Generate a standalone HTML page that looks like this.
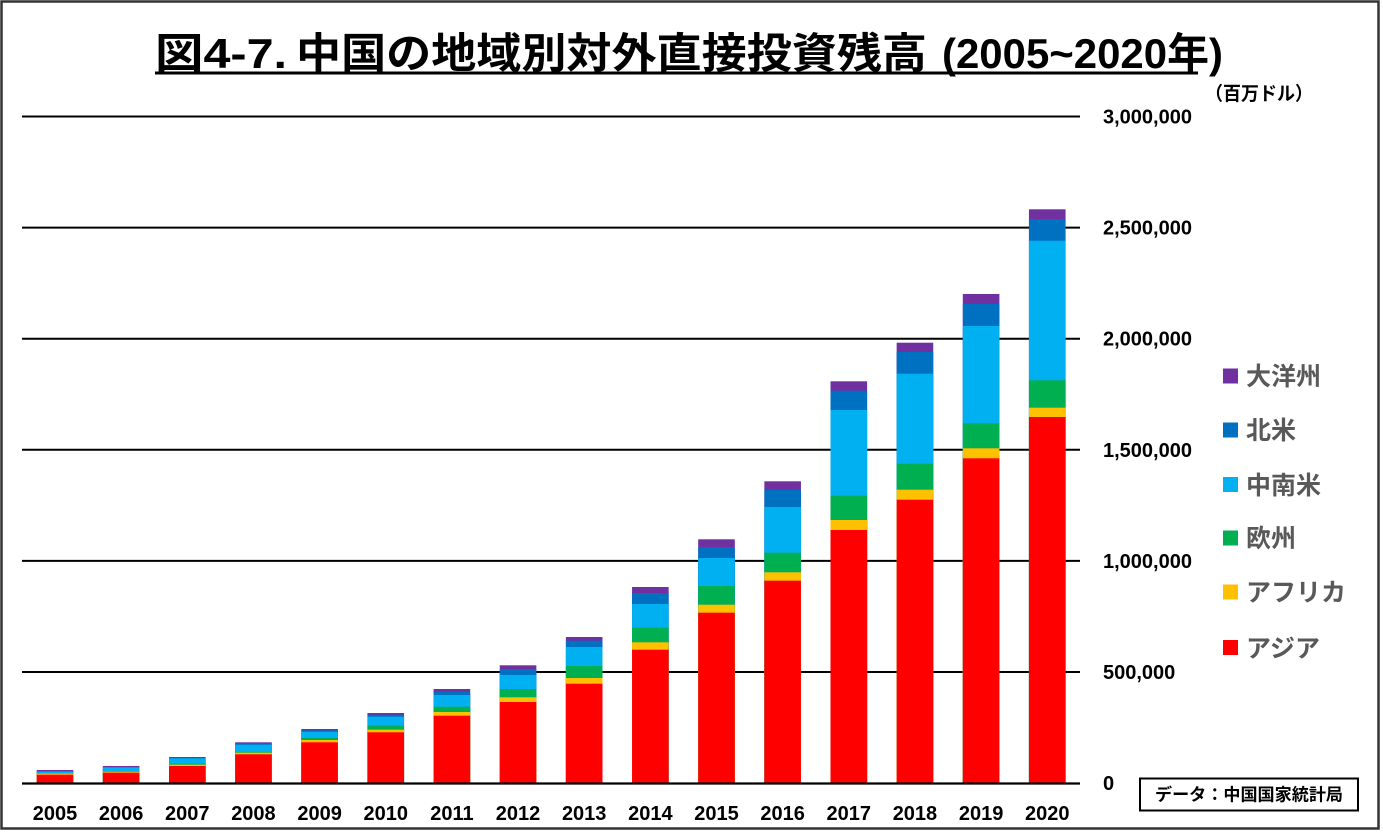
<!DOCTYPE html>
<html>
<head>
<meta charset="utf-8">
<style>
  html, body { margin: 0; padding: 0; background: #ffffff; }
  svg { display: block; }
  .cjk { font-family: "Liberation Sans", "Noto Sans CJK JP", sans-serif; }
  .lat { font-family: "Liberation Sans", sans-serif; }
</style>
</head>
<body>
<svg width="1383" height="833" viewBox="0 0 1383 833" xmlns="http://www.w3.org/2000/svg">
  <rect x="0" y="0" width="1383" height="833" fill="#ffffff"/>
  <!-- outer border -->
  <rect x="1.5" y="1.5" width="1377" height="827" fill="none" stroke="#333333" stroke-width="2.5"/>

  <!-- title -->
  <g class="cjk" font-weight="bold" font-size="42" fill="#000">
    <text x="155" y="68" textLength="132" lengthAdjust="spacingAndGlyphs">図4-7.</text>
    <text x="296" y="68" textLength="631" lengthAdjust="spacingAndGlyphs">中国の地域別対外直接投資残高</text>
    <text x="942" y="68" textLength="281" lengthAdjust="spacingAndGlyphs">(2005~2020年)</text>
  </g>
  <rect x="155" y="71.5" width="1043" height="3" fill="#000"/>

  <!-- unit -->
  <text class="cjk" x="1205" y="100" font-size="19" font-weight="bold" fill="#000" textLength="108" lengthAdjust="spacingAndGlyphs">（百万ドル）</text>

  <!-- gridlines -->
  <g stroke="#000" stroke-width="2">
    <line x1="22" y1="116.5" x2="1080" y2="116.5"/>
    <line x1="22" y1="227.6" x2="1080" y2="227.6"/>
    <line x1="22" y1="338.7" x2="1080" y2="338.7"/>
    <line x1="22" y1="449.8" x2="1080" y2="449.8"/>
    <line x1="22" y1="560.9" x2="1080" y2="560.9"/>
    <line x1="22" y1="672" x2="1080" y2="672"/>
  </g>

  <!-- bars: each segment drawn from its top to baseline, painted purple -> red -->
  <g>
    <!-- 2005 -->
    <g transform="translate(36.7,0)">
      <rect x="0" y="770" width="36.6" height="13" fill="#7030A0"/>
      <rect x="0" y="771" width="36.6" height="12" fill="#0070C0"/>
      <rect x="0" y="771.5" width="36.6" height="11.5" fill="#00B0F0"/>
      <rect x="0" y="773.2" width="36.6" height="9.8" fill="#00B050"/>
      <rect x="0" y="773.5" width="36.6" height="9.5" fill="#FFC000"/>
      <rect x="0" y="774.7" width="36.6" height="8.3" fill="#FF0000"/>
    </g>
    <!-- 2006 -->
    <g transform="translate(102.85,0)">
      <rect x="0" y="766" width="36.6" height="17" fill="#7030A0"/>
      <rect x="0" y="767" width="36.6" height="16" fill="#0070C0"/>
      <rect x="0" y="767.3" width="36.6" height="15.7" fill="#00B0F0"/>
      <rect x="0" y="771.3" width="36.6" height="11.7" fill="#00B050"/>
      <rect x="0" y="771.7" width="36.6" height="11.3" fill="#FFC000"/>
      <rect x="0" y="772.7" width="36.6" height="10.3" fill="#FF0000"/>
    </g>
    <!-- 2007 -->
    <g transform="translate(169,0)">
      <rect x="0" y="757" width="36.6" height="26" fill="#7030A0"/>
      <rect x="0" y="757.7" width="36.6" height="25.3" fill="#0070C0"/>
      <rect x="0" y="758.3" width="36.6" height="24.7" fill="#00B0F0"/>
      <rect x="0" y="763.7" width="36.6" height="19.3" fill="#00B050"/>
      <rect x="0" y="764.7" width="36.6" height="18.3" fill="#FFC000"/>
      <rect x="0" y="766" width="36.6" height="17" fill="#FF0000"/>
    </g>
    <!-- 2008 -->
    <g transform="translate(235.15,0)">
      <rect x="0" y="742.3" width="36.6" height="40.7" fill="#7030A0"/>
      <rect x="0" y="743.3" width="36.6" height="39.7" fill="#0070C0"/>
      <rect x="0" y="744.7" width="36.6" height="38.3" fill="#00B0F0"/>
      <rect x="0" y="752" width="36.6" height="31" fill="#00B050"/>
      <rect x="0" y="752.7" width="36.6" height="30.3" fill="#FFC000"/>
      <rect x="0" y="754.3" width="36.6" height="28.7" fill="#FF0000"/>
    </g>
    <!-- 2009 -->
    <g transform="translate(301.3,0)">
      <rect x="0" y="729" width="36.6" height="54" fill="#7030A0"/>
      <rect x="0" y="730.3" width="36.6" height="52.7" fill="#0070C0"/>
      <rect x="0" y="731.7" width="36.6" height="51.3" fill="#00B0F0"/>
      <rect x="0" y="738" width="36.6" height="45" fill="#00B050"/>
      <rect x="0" y="740" width="36.6" height="43" fill="#FFC000"/>
      <rect x="0" y="742.3" width="36.6" height="40.7" fill="#FF0000"/>
    </g>
    <!-- 2010 -->
    <g transform="translate(367.45,0)">
      <rect x="0" y="713" width="36.6" height="70" fill="#7030A0"/>
      <rect x="0" y="714.7" width="36.6" height="68.3" fill="#0070C0"/>
      <rect x="0" y="716.7" width="36.6" height="66.3" fill="#00B0F0"/>
      <rect x="0" y="725.7" width="36.6" height="57.3" fill="#00B050"/>
      <rect x="0" y="729.7" width="36.6" height="53.3" fill="#FFC000"/>
      <rect x="0" y="732.3" width="36.6" height="50.7" fill="#FF0000"/>
    </g>
    <!-- 2011 -->
    <g transform="translate(433.6,0)">
      <rect x="0" y="689" width="36.6" height="94" fill="#7030A0"/>
      <rect x="0" y="691.7" width="36.6" height="91.3" fill="#0070C0"/>
      <rect x="0" y="695" width="36.6" height="88" fill="#00B0F0"/>
      <rect x="0" y="706.7" width="36.6" height="76.3" fill="#00B050"/>
      <rect x="0" y="712" width="36.6" height="71" fill="#FFC000"/>
      <rect x="0" y="715.7" width="36.6" height="67.3" fill="#FF0000"/>
    </g>
    <!-- 2012 -->
    <g transform="translate(499.75,0)">
      <rect x="0" y="665.3" width="36.6" height="117.7" fill="#7030A0"/>
      <rect x="0" y="669" width="36.6" height="114" fill="#0070C0"/>
      <rect x="0" y="675" width="36.6" height="108" fill="#00B0F0"/>
      <rect x="0" y="689" width="36.6" height="94" fill="#00B050"/>
      <rect x="0" y="697.3" width="36.6" height="85.7" fill="#FFC000"/>
      <rect x="0" y="702" width="36.6" height="81" fill="#FF0000"/>
    </g>
    <!-- 2013 -->
    <g transform="translate(565.9,0)">
      <rect x="0" y="637" width="36.6" height="146" fill="#7030A0"/>
      <rect x="0" y="640.7" width="36.6" height="142.3" fill="#0070C0"/>
      <rect x="0" y="647" width="36.6" height="136" fill="#00B0F0"/>
      <rect x="0" y="666" width="36.6" height="117" fill="#00B050"/>
      <rect x="0" y="678" width="36.6" height="105" fill="#FFC000"/>
      <rect x="0" y="683.7" width="36.6" height="99.3" fill="#FF0000"/>
    </g>
    <!-- 2014 -->
    <g transform="translate(632.05,0)">
      <rect x="0" y="587" width="36.6" height="196" fill="#7030A0"/>
      <rect x="0" y="593" width="36.6" height="190" fill="#0070C0"/>
      <rect x="0" y="604" width="36.6" height="179" fill="#00B0F0"/>
      <rect x="0" y="627.7" width="36.6" height="155.3" fill="#00B050"/>
      <rect x="0" y="642.3" width="36.6" height="140.7" fill="#FFC000"/>
      <rect x="0" y="649.7" width="36.6" height="133.3" fill="#FF0000"/>
    </g>
    <!-- 2015 -->
    <g transform="translate(698.2,0)">
      <rect x="0" y="539.3" width="36.6" height="243.7" fill="#7030A0"/>
      <rect x="0" y="547" width="36.6" height="236" fill="#0070C0"/>
      <rect x="0" y="558" width="36.6" height="225" fill="#00B0F0"/>
      <rect x="0" y="586" width="36.6" height="197" fill="#00B050"/>
      <rect x="0" y="604.7" width="36.6" height="178.3" fill="#FFC000"/>
      <rect x="0" y="612.7" width="36.6" height="170.3" fill="#FF0000"/>
    </g>
    <!-- 2016 -->
    <g transform="translate(764.35,0)">
      <rect x="0" y="481.3" width="36.6" height="301.7" fill="#7030A0"/>
      <rect x="0" y="490" width="36.6" height="293" fill="#0070C0"/>
      <rect x="0" y="507" width="36.6" height="276" fill="#00B0F0"/>
      <rect x="0" y="552.7" width="36.6" height="230.3" fill="#00B050"/>
      <rect x="0" y="572.3" width="36.6" height="210.7" fill="#FFC000"/>
      <rect x="0" y="580.7" width="36.6" height="202.3" fill="#FF0000"/>
    </g>
    <!-- 2017 -->
    <g transform="translate(830.5,0)">
      <rect x="0" y="381.3" width="36.6" height="401.7" fill="#7030A0"/>
      <rect x="0" y="390.7" width="36.6" height="392.3" fill="#0070C0"/>
      <rect x="0" y="410" width="36.6" height="373" fill="#00B0F0"/>
      <rect x="0" y="495.7" width="36.6" height="287.3" fill="#00B050"/>
      <rect x="0" y="520" width="36.6" height="263" fill="#FFC000"/>
      <rect x="0" y="530" width="36.6" height="253" fill="#FF0000"/>
    </g>
    <!-- 2018 -->
    <g transform="translate(896.65,0)">
      <rect x="0" y="342.7" width="36.6" height="440.3" fill="#7030A0"/>
      <rect x="0" y="351.7" width="36.6" height="431.3" fill="#0070C0"/>
      <rect x="0" y="373.7" width="36.6" height="409.3" fill="#00B0F0"/>
      <rect x="0" y="463.7" width="36.6" height="319.3" fill="#00B050"/>
      <rect x="0" y="489.7" width="36.6" height="293.3" fill="#FFC000"/>
      <rect x="0" y="499.7" width="36.6" height="283.3" fill="#FF0000"/>
    </g>
    <!-- 2019 -->
    <g transform="translate(962.8,0)">
      <rect x="0" y="294" width="36.6" height="489" fill="#7030A0"/>
      <rect x="0" y="303.7" width="36.6" height="479.3" fill="#0070C0"/>
      <rect x="0" y="326" width="36.6" height="457" fill="#00B0F0"/>
      <rect x="0" y="423.3" width="36.6" height="359.7" fill="#00B050"/>
      <rect x="0" y="448.3" width="36.6" height="334.7" fill="#FFC000"/>
      <rect x="0" y="458.3" width="36.6" height="324.7" fill="#FF0000"/>
    </g>
    <!-- 2020 -->
    <g transform="translate(1028.95,0)">
      <rect x="0" y="209.3" width="36.6" height="573.7" fill="#7030A0"/>
      <rect x="0" y="219" width="36.6" height="564" fill="#0070C0"/>
      <rect x="0" y="240.7" width="36.6" height="542.3" fill="#00B0F0"/>
      <rect x="0" y="380.3" width="36.6" height="402.7" fill="#00B050"/>
      <rect x="0" y="407.7" width="36.6" height="375.3" fill="#FFC000"/>
      <rect x="0" y="417" width="36.6" height="366" fill="#FF0000"/>
    </g>
  </g>

  <!-- baseline -->
  <line x1="22" y1="783.5" x2="1080" y2="783.5" stroke="#000" stroke-width="2.2"/>

  <!-- y-axis labels -->
  <g class="lat" font-size="20" font-weight="bold" fill="#000">
    <text x="1103" y="123.5">3,000,000</text>
    <text x="1103" y="234.6">2,500,000</text>
    <text x="1103" y="345.7">2,000,000</text>
    <text x="1103" y="456.8">1,500,000</text>
    <text x="1103" y="567.9">1,000,000</text>
    <text x="1103" y="679">500,000</text>
    <text x="1103" y="790">0</text>
  </g>

  <!-- x-axis labels -->
  <g class="lat" font-size="20" font-weight="bold" fill="#000" text-anchor="middle">
    <text x="55" y="820">2005</text>
    <text x="121.15" y="820">2006</text>
    <text x="187.3" y="820">2007</text>
    <text x="253.45" y="820">2008</text>
    <text x="319.6" y="820">2009</text>
    <text x="385.75" y="820">2010</text>
    <text x="451.9" y="820">2011</text>
    <text x="518.05" y="820">2012</text>
    <text x="584.2" y="820">2013</text>
    <text x="650.35" y="820">2014</text>
    <text x="716.5" y="820">2015</text>
    <text x="782.65" y="820">2016</text>
    <text x="848.8" y="820">2017</text>
    <text x="914.95" y="820">2018</text>
    <text x="981.1" y="820">2019</text>
    <text x="1047.25" y="820">2020</text>
  </g>

  <!-- legend -->
  <g>
    <rect x="1223" y="368.5" width="15" height="15" fill="#7030A0"/>
    <rect x="1223" y="422.5" width="15" height="15" fill="#0070C0"/>
    <rect x="1223" y="477" width="15" height="15" fill="#00B0F0"/>
    <rect x="1223" y="530.5" width="15" height="15" fill="#00B050"/>
    <rect x="1223" y="584.5" width="15" height="15" fill="#FFC000"/>
    <rect x="1223" y="640" width="15" height="15" fill="#FF0000"/>
  </g>
  <g class="cjk" font-size="25" font-weight="bold" fill="#595959">
    <text x="1246" y="385">大洋州</text>
    <text x="1246" y="439">北米</text>
    <text x="1246" y="494">中南米</text>
    <text x="1246" y="547">欧州</text>
    <text x="1246" y="601">アフリカ</text>
    <text x="1246" y="657">アジア</text>
  </g>

  <!-- data source box -->
  <rect x="1140" y="778.5" width="218" height="32" fill="#fff" stroke="#000" stroke-width="2"/>
  <text class="cjk" x="1155" y="800.5" font-size="17" font-weight="bold" fill="#000" textLength="188" lengthAdjust="spacingAndGlyphs">データ：中国国家統計局</text>
</svg>
</body>
</html>
